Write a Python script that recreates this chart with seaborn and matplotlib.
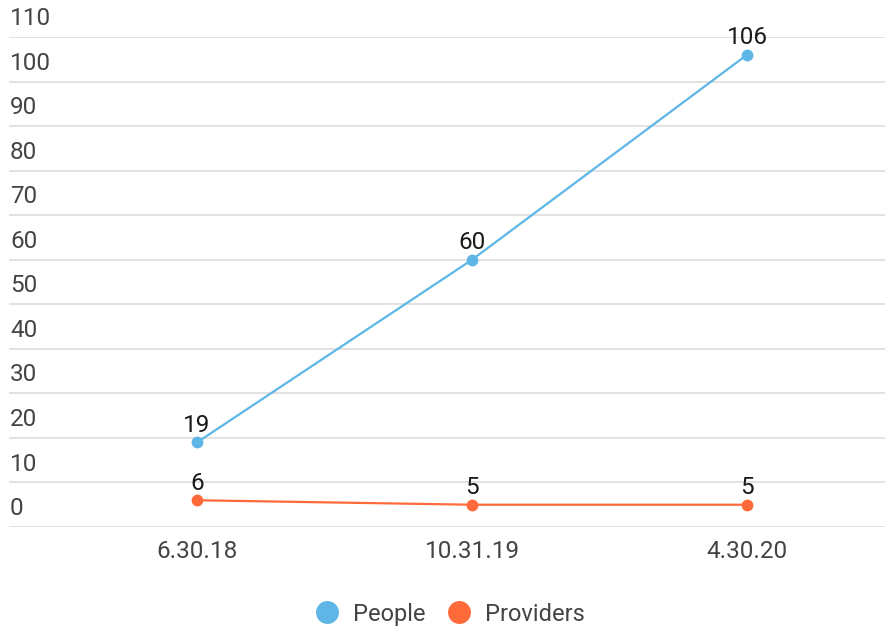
import seaborn as sns
import numpy as np
import pandas as pd
import matplotlib.pyplot as plt
from matplotlib.lines import Line2D
from matplotlib import transforms

dates = ["6.30.18", "10.31.19", "4.30.20"]
people = [19, 60, 106]
providers = [6, 5, 5]
yticks = list(range(0, 111, 10))

colors = {"People": "#5DB6E6", "Providers": "#FF6A3A"}

df = pd.DataFrame({
    "date": dates * 2,
    "value": people + providers,
    "series": ["People"] * 3 + ["Providers"] * 3,
})
df["x"] = df["date"].map({d: i for i, d in enumerate(dates)})

sns.set_style("white")
plt.rcParams["font.family"] = ["Roboto", "DejaVu Sans"]

fig = plt.figure(figsize=(8.88, 6.28), dpi=100)
ax = fig.add_axes([9 / 888, 101 / 628, 876 / 888, 490 / 628])

sns.lineplot(data=df, x="x", y="value", hue="series", palette=colors,
             marker="o", markersize=8.5, markeredgewidth=0, linewidth=1.6,
             legend=False, ax=ax)

# value labels above each point
for _, r in df.iterrows():
    ax.annotate(str(r["value"]), (r["x"], r["value"]), xytext=(0, 4),
                textcoords="offset points", ha="center", va="bottom",
                fontsize=17.5, color="#1a1a1a")

ax.set_xlim(-0.684, 2.502)
ax.set_ylim(0, 110)
ax.set_yticks(yticks)
ax.set_yticklabels([])
ax.tick_params(axis="y", length=0)
ax.set_xticks(range(len(dates)))
ax.set_xticklabels(dates, fontsize=17.5, color="#444444")
ax.tick_params(axis="x", length=0, pad=9)
ax.set_xlabel("")
ax.set_ylabel("")
ax.grid(axis="y", color="#dddddd", linewidth=1.2)
ax.set_axisbelow(True)
for s in ax.spines.values():
    s.set_visible(False)

# y labels sit above their gridlines
trans = transforms.blended_transform_factory(ax.transAxes, ax.transData)
for t in yticks:
    ax.annotate(str(t), (0.001, t), xycoords=trans, xytext=(0, 5),
                textcoords="offset points", ha="left", va="bottom",
                fontsize=17.5, color="#444444", annotation_clip=False)

handles = [Line2D([], [], marker="o", linestyle="", markersize=16.5,
                  markerfacecolor=colors[k], markeredgewidth=0, label=k)
           for k in ["People", "Providers"]]
fig.legend(handles=handles, loc="center", bbox_to_anchor=(0.5, 0.022),
           ncol=2, frameon=False, fontsize=17, handletextpad=0.1,
           columnspacing=0.4, labelcolor="#444444")

fig.savefig("out.png", dpi=100)
